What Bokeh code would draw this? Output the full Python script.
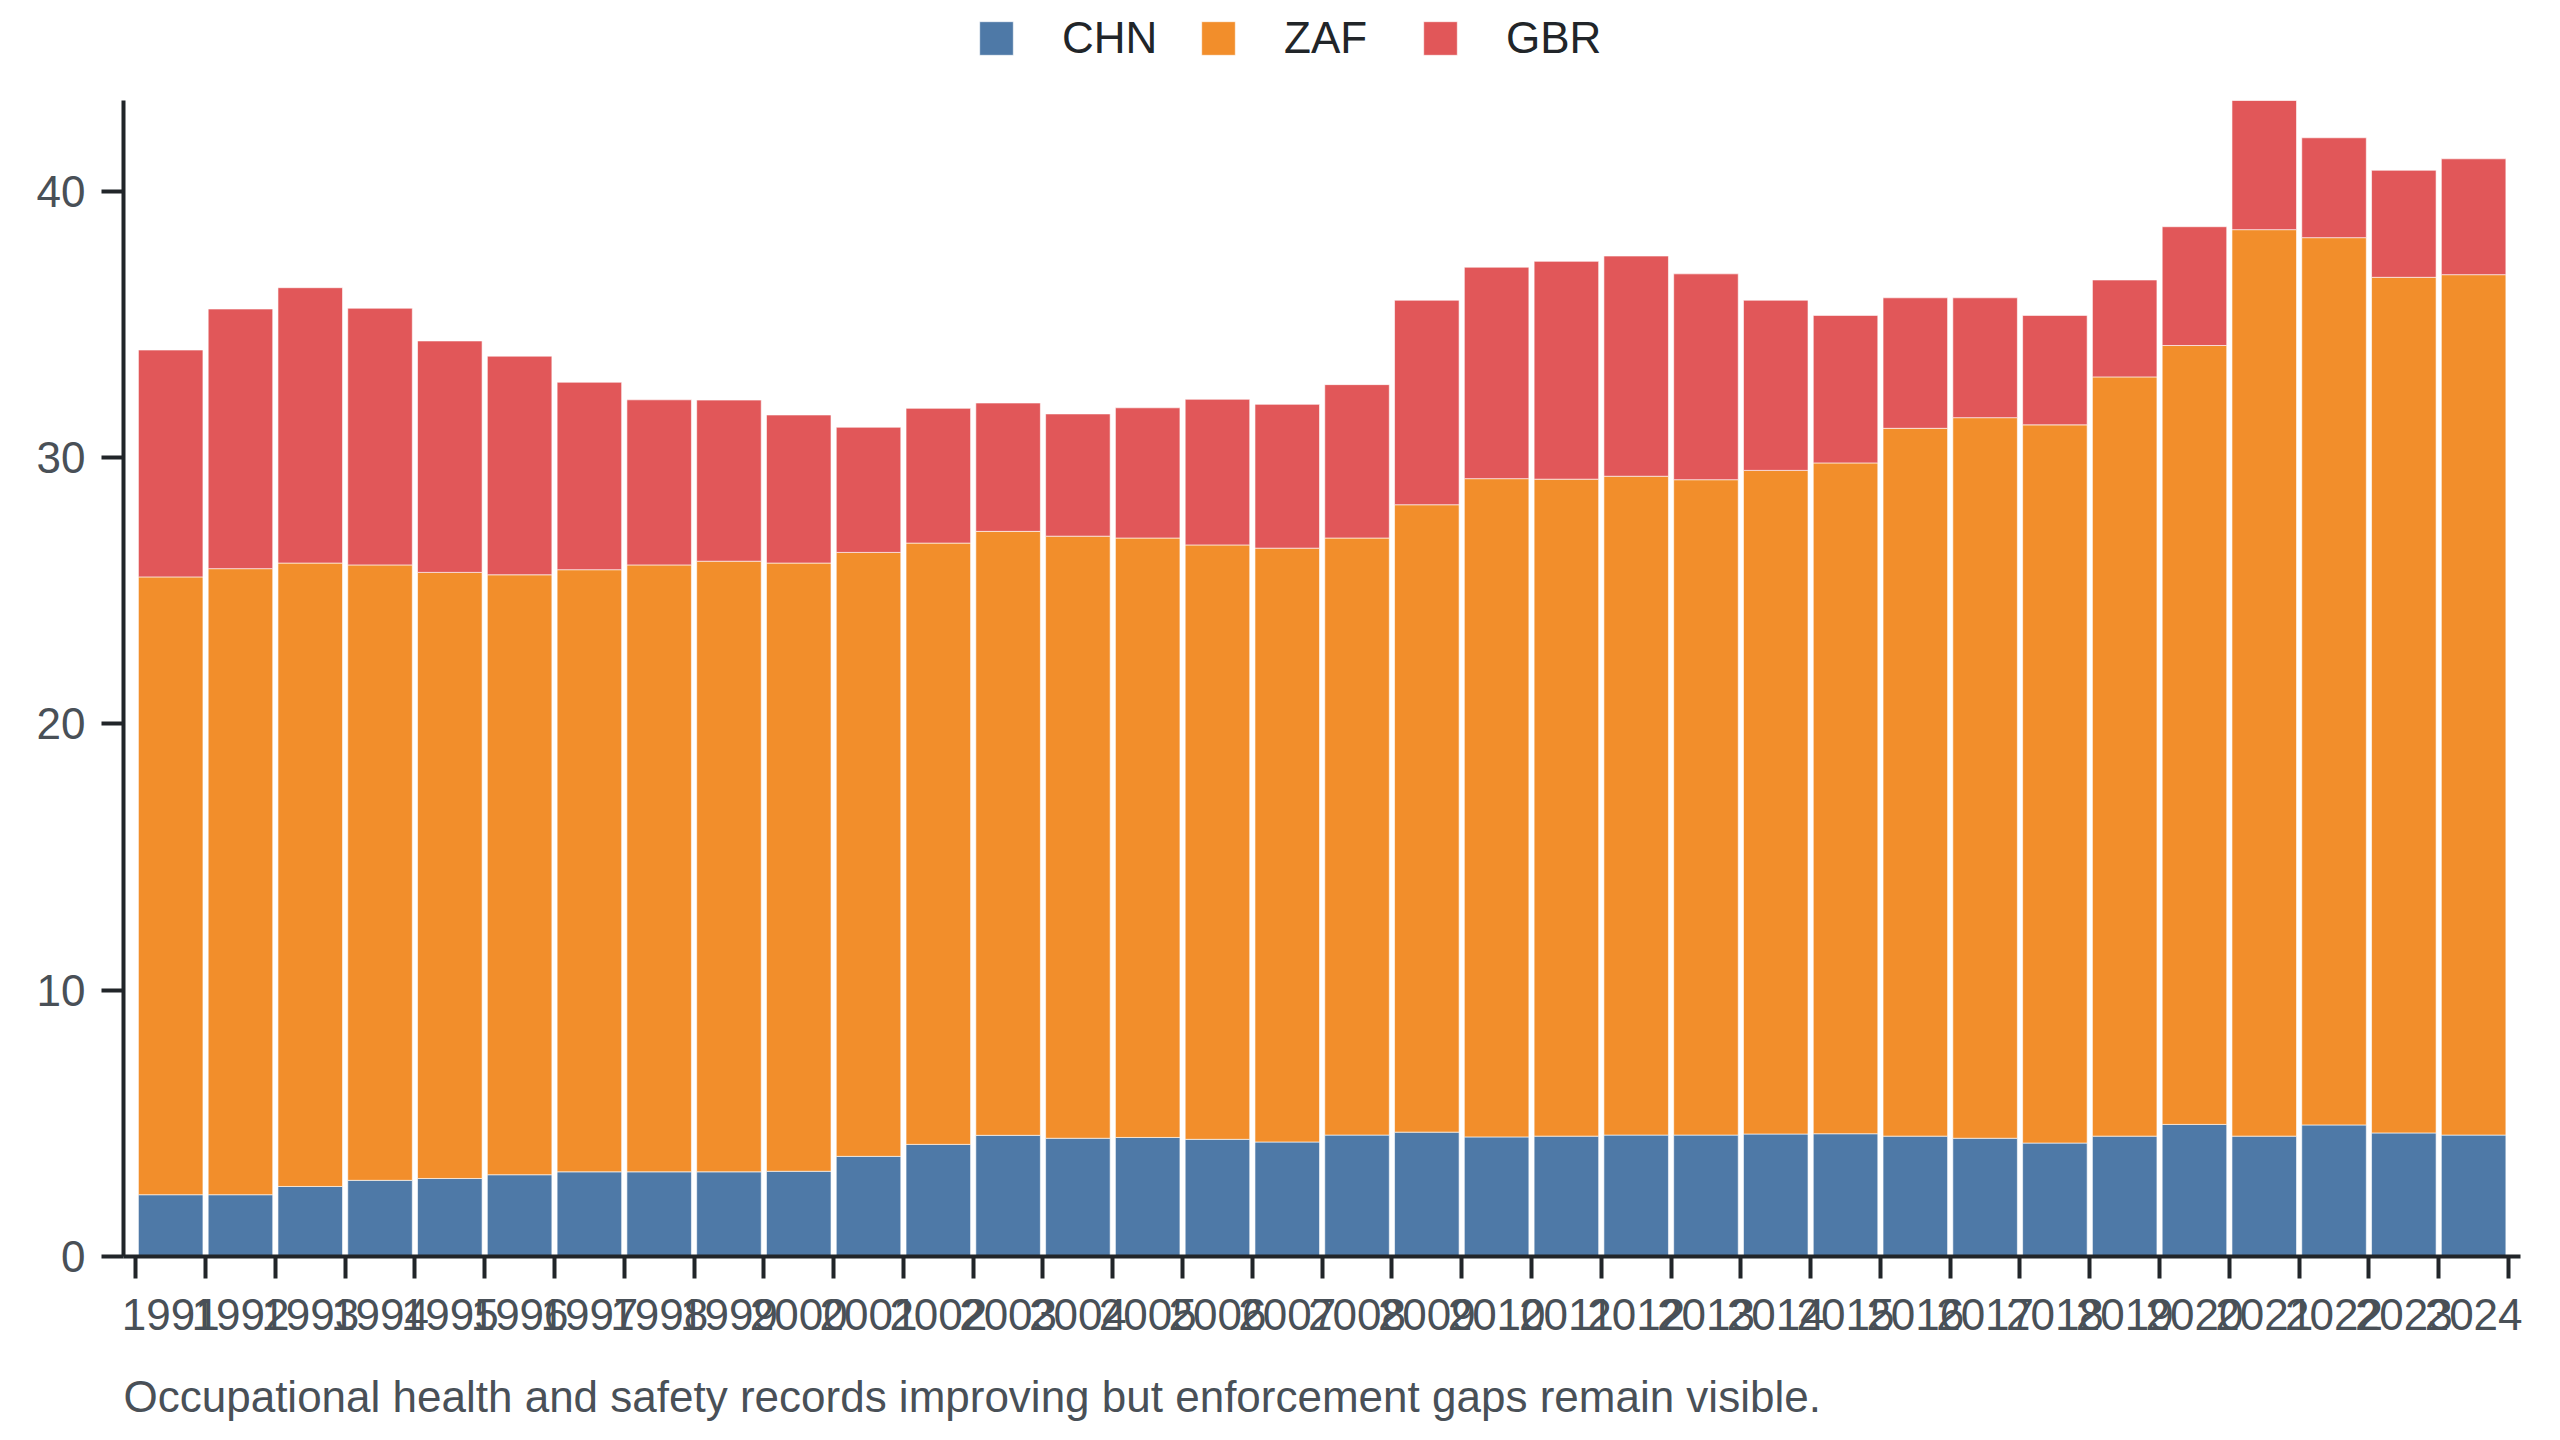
from bokeh.plotting import figure
from bokeh.layouts import column
from bokeh.models import ColumnDataSource, Range1d, FixedTicker, Title, Legend
from bokeh.embed import file_html
from bokeh.resources import INLINE

# values
years = list(range(1991, 2025))
chn = [2.32, 2.32, 2.63, 2.86, 2.93, 3.07, 3.18, 3.18, 3.18, 3.20,
       3.76, 4.21, 4.55, 4.44, 4.47, 4.40, 4.30, 4.56, 4.67, 4.49,
       4.52, 4.56, 4.56, 4.60, 4.61, 4.52, 4.44, 4.26, 4.52, 4.96,
       4.52, 4.94, 4.64, 4.56]
zaf = [23.20, 23.51, 23.41, 23.11, 22.76, 22.53, 22.61, 22.79, 22.93, 22.84,
       22.68, 22.58, 22.68, 22.61, 22.51, 22.32, 22.30, 22.42, 23.56, 24.72,
       24.67, 24.74, 24.61, 24.92, 25.19, 26.58, 27.06, 26.97, 28.51, 29.25,
       34.04, 33.32, 32.13, 32.31]
gbr = [8.52, 9.75, 10.34, 9.64, 8.69, 8.21, 7.04, 6.20, 6.05, 5.56,
       4.70, 5.06, 4.82, 4.59, 4.89, 5.47, 5.40, 5.76, 7.68, 7.94,
       8.18, 8.27, 7.73, 6.39, 5.54, 4.90, 4.50, 4.11, 3.64, 4.46,
       4.85, 3.75, 4.02, 4.35]
series = ["CHN", "ZAF", "GBR"]
colors = ["#4e79a7", "#f28e2b", "#e15759"]
y_ticks = [0, 10, 20, 30, 40]
caption = "Occupational health and safety records improving but enforcement gaps remain visible."

FONT = "Liberation Sans"
AXIS = "#212529"
TEXT = "#495057"
LEGEND_H = 68

source = ColumnDataSource(data=dict(year=years, CHN=chn, ZAF=zaf, GBR=gbr))
totals = [a + b + c for a, b, c in zip(chn, zaf, gbr)]
x_range = Range1d(years[0] - 0.5 - 0.176, years[-1] + 0.5 + 0.172)

p = figure(frame_width=2397, frame_height=1156,
           min_border_left=123, min_border_right=24,
           min_border_top=100 - LEGEND_H, min_border_bottom=176,
           x_range=x_range, y_range=Range1d(0, max(totals)),
           output_backend="svg", toolbar_location=None)

bar_style = dict(line_color="white", line_width=1, line_alpha=0.6)
p.vbar_stack(series, x="year", width=0.925, color=colors, source=source, **bar_style)

p.xgrid.visible = False
p.ygrid.visible = False
p.outline_line_color = None
p.background_fill_color = "white"
p.border_fill_color = "white"

# x axis: tick marks on band edges, labels at band centres
edges = [y - 0.5 for y in years] + [years[-1] + 0.5]
p.xaxis.ticker = FixedTicker(ticks=years, minor_ticks=edges)
p.xaxis.major_tick_line_color = None
p.xaxis.major_tick_out = 22
p.xaxis.major_tick_in = 0
p.xaxis.minor_tick_out = 22
p.xaxis.minor_tick_in = 0
p.xaxis.minor_tick_line_width = 4
p.xaxis.minor_tick_line_color = AXIS
p.xaxis.major_label_standoff = 20

p.yaxis.ticker = FixedTicker(ticks=y_ticks)
p.yaxis.major_tick_out = 22
p.yaxis.major_tick_in = 0
p.yaxis.major_tick_line_width = 4
p.yaxis.major_tick_line_color = AXIS
p.yaxis.minor_tick_line_color = None
p.yaxis.major_label_standoff = 16

for ax in (p.xaxis, p.yaxis):
    ax.axis_line_width = 4
    ax.axis_line_color = AXIS
    ax.major_label_text_font = FONT
    ax.major_label_text_font_size = "44px"
    ax.major_label_text_color = TEXT

# blank spacer between the tick labels and the caption
p.add_layout(Title(text=" ", text_font_size="2px", standoff=33), "below")
p.add_layout(Title(text=caption, align="left", standoff=0,
                   text_font=FONT, text_font_size="44px",
                   text_font_style="normal", text_color=TEXT), "below")

# legend strip on top of the chart (its bars sit far outside its visible y range)
lg = figure(width=2544, height=LEGEND_H, min_border=0,
            x_range=x_range, y_range=Range1d(1000, 1001),
            x_axis_location=None, y_axis_location=None,
            output_backend="svg", toolbar_location=None)
lg.xgrid.visible = False
lg.ygrid.visible = False
lg.outline_line_color = None
swatches = lg.vbar_stack(series, x="year", width=0.925, color=colors,
                         source=source, **bar_style)
leg = Legend(items=[(name, [r]) for name, r in zip(series, swatches)],
             orientation="horizontal", location=(852, 5),
             border_line_color=None, background_fill_alpha=0,
             padding=0, margin=0, spacing=0,
             glyph_width=42, glyph_height=42,
             label_standoff=45, label_width=135,
             label_text_font=FONT, label_text_font_size="44px",
             label_text_color=AXIS)
lg.add_layout(leg)

open("out.html", "w").write(file_html(column(lg, p, spacing=0), INLINE))
